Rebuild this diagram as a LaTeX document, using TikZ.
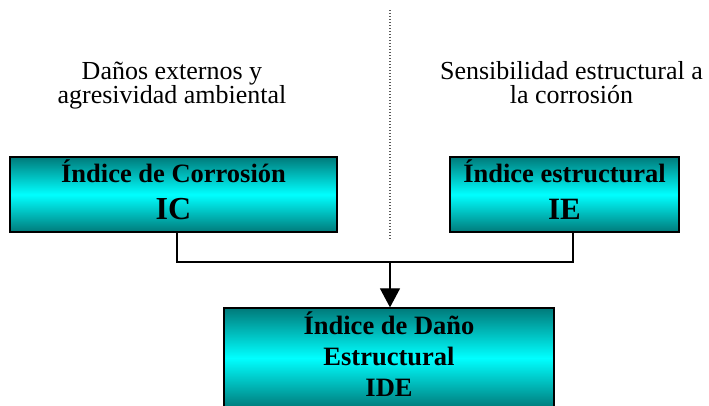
\documentclass[tikz,border=0pt]{standalone}
\usepackage{fontspec}
\setmainfont{Liberation Serif}
\usetikzlibrary{arrows.meta, positioning, calc}
\definecolor{tealdark}{RGB}{0,122,122}
\definecolor{cyanlight}{RGB}{0,255,255}

\begin{document}
\begin{tikzpicture}[
    x=1pt, y=-1pt,
    indexbox/.style={rectangle, draw=black, line width=1.3pt, top color=tealdark, bottom color=tealdark, middle color=cyanlight, text centered, align=center, font=\bfseries\fontsize{26.5}{37}\selectfont, inner sep=0pt},
    note/.style={align=center, font=\fontsize{26}{24}\selectfont, anchor=base},
    link/.style={line width=1.2pt},
    arrow/.style={link, -{Triangle[width=20pt,length=19pt]}}
]
    \useasboundingbox (0,0) rectangle (709,405);
    \clip (0,0) rectangle (709,405);

    % Boxes
    \node[indexbox, minimum width=327pt, minimum height=75pt, text depth=10pt] (ic) at (173.5,194.5) {\'Indice de Corrosi\'on\\{\fontsize{32}{37}\selectfont IC}};
    \node[indexbox, minimum width=229pt, minimum height=75pt, text depth=10pt] (ie) at (564.5,194.5) {\'Indice estructural\\{\fontsize{31}{37}\selectfont IE}};
    \node[indexbox, minimum width=330pt, minimum height=100pt, text depth=8pt, font=\bfseries\fontsize{26.5}{31}\selectfont] (ide) at (389,358) {\'Indice de Da\~no\\Estructural\\IDE};

    % Notes
    \node[note] (dano) at (172,103) {Da\~nos externos y\\agresividad ambiental};
    \node[note] (sens) at (571.5,103) {Sensibilidad estructural a\\la corrosi\'on};

    % Divider
    \coordinate (divtop) at (390,10);
    \coordinate (divbot) at (390,240);
    \draw[gray!70!black, line width=1.2pt, dash pattern=on 1.2pt off 1.8pt] (divtop) -- (divbot);

    % Connectors
    \coordinate (join) at (390,262);
    \draw[link] ([xshift=3.5pt]ic.south) |- (join) -| ([xshift=8.5pt]ie.south);
    \draw[arrow] (join) -- (join |- ide.north);
\end{tikzpicture}
\end{document}
